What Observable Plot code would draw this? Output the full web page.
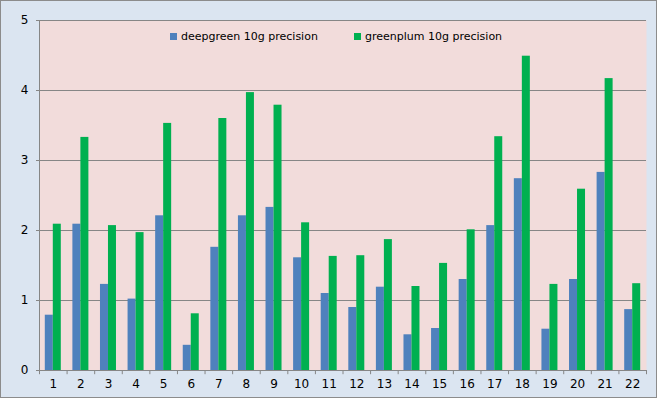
<!DOCTYPE html>
<html>
<head>
<meta charset="utf-8">
<script src="https://cdn.jsdelivr.net/npm/d3@7"></script>
<script src="https://cdn.jsdelivr.net/npm/@observablehq/plot@0.6"></script>
<style>
  html, body { margin: 0; padding: 0; background: #dbe5f1; }
  #wrap { position: relative; width: 657px; height: 398px; font-family: "DejaVu Sans", sans-serif; }
  #wrap svg { display: block; outline: 1px solid #8c8c8c; outline-offset: -1px; }
  .leg { position: absolute; top: 30px; font-size: 11px; color: #000; display: flex; align-items: center; white-space: nowrap; }
  .leg i { display: inline-block; width: 7px; height: 7px; margin-right: 4px; }
</style>
</head>
<body>
<div id="wrap"></div>
<script>
const categories = [1,2,3,4,5,6,7,8,9,10,11,12,13,14,15,16,17,18,19,20,21,22];
const deepgreen = [0.79,2.09,1.23,1.02,2.21,0.36,1.76,2.21,2.33,1.61,1.10,0.90,1.19,0.51,0.60,1.30,2.07,2.74,0.59,1.30,2.83,0.87];
const greenplum = [2.09,3.33,2.07,1.97,3.53,0.81,3.60,3.97,3.79,2.11,1.63,1.64,1.87,1.20,1.53,2.01,3.34,4.49,1.23,2.59,4.17,1.24];
const seriesNames = ["deepgreen 10g precision", "greenplum 10g precision"];
const colors = ["#4f81bd", "#00b050"];
const yTicks = [0,1,2,3,4,5];

const W = 657, H = 398, mL = 39, mR = 11, mT = 20, mB = 28;
const band = (W - mL - mR) / categories.length;
const barW = 8;
const outer = (band - 2 * barW) / 2;

const rowsA = categories.map((c, i) => ({c, v: deepgreen[i]}));
const rowsB = categories.map((c, i) => ({c, v: greenplum[i]}));
const bounds = [categories[0] - 0.5, ...categories.map(c => c + 0.5)];

const chart = Plot.plot({
  width: W, height: H,
  marginLeft: mL, marginRight: mR, marginTop: mT, marginBottom: mB,
  style: {background: "#dbe5f1", fontFamily: "DejaVu Sans, sans-serif", fontSize: "12px", color: "#000"},
  x: {domain: [categories[0] - 0.5, categories[categories.length - 1] + 0.5]},
  y: {domain: [0, 5]},
  marks: [
    Plot.frame({fill: "#f2dcdb", stroke: null}),
    Plot.gridY(yTicks, {stroke: "#868686", strokeOpacity: 1}),
    Plot.rectY(rowsA, {x1: d => d.c - 0.5, x2: d => d.c + 0.5, y: "v", fill: colors[0], insetLeft: outer, insetRight: outer + barW}),
    Plot.rectY(rowsB, {x1: d => d.c - 0.5, x2: d => d.c + 0.5, y: "v", fill: colors[1], insetLeft: outer + barW, insetRight: outer}),
    Plot.ruleX(bounds, {x: d => d, y1: 0, y2: -0.06, stroke: "#868686"}),
    Plot.ruleY([0], {stroke: "#868686"}),
    Plot.ruleX([categories[0] - 0.5], {stroke: "#868686"}),
    Plot.axisX(categories, {tickSize: 0, tickPadding: 9, label: null, tickFormat: d => String(d)}),
    Plot.axisY(yTicks, {tickSize: 3, stroke: "#868686", tickPadding: 8, label: null, tickFormat: d => String(d)})
  ]
});

const wrap = document.getElementById("wrap");
wrap.appendChild(chart);
const lefts = [170, 354];
seriesNames.forEach((name, i) => {
  const el = document.createElement("div");
  el.className = "leg";
  el.style.left = lefts[i] + "px";
  el.innerHTML = `<i style="background:${colors[i]}"></i><span></span>`;
  el.querySelector("span").textContent = name;
  wrap.appendChild(el);
});
</script>
</body>
</html>
